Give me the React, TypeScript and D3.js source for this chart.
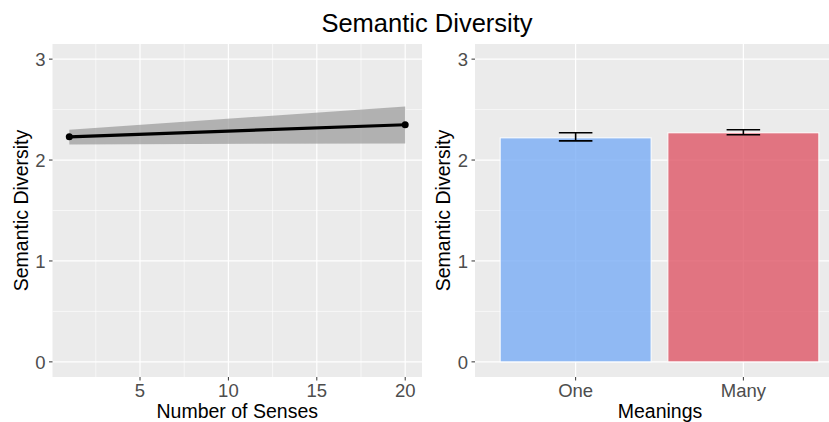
import React from "react";
import * as d3 from "d3";

const senses = [1, 20];
const fitValues = [2.23, 2.35];
const lowerValues = [2.155, 2.165];
const upperValues = [2.3, 2.53];

const meanings = ["One", "Many"];
const barValues = [2.22, 2.27];
const errLow = [2.19, 2.25];
const errHigh = [2.27, 2.3];
const barColors = ["#76AAF5", "#DE5263"];

const yTicks = [0, 1, 2, 3];
const yMinor = [0.5, 1.5, 2.5];
const xTicks = [5, 10, 15, 20];
const xMinor = [2.5, 7.5, 12.5, 17.5];

const W = 829;
const H = 422;
const FONT = "'Liberation Sans', Arial, Helvetica, sans-serif";

export default function App() {
  const top = 44;
  const bottom = 377;
  const y = d3.scaleLinear().domain([-0.15, 3.15]).range([bottom, top]);

  // Left panel
  const lx0 = 52.5;
  const lx1 = 422;
  const xL = d3.scaleLinear().domain([1 - 0.95, 20 + 0.95]).range([lx0, lx1]);

  // Right panel
  const rx0 = 475;
  const rx1 = 844;
  const xR = d3.scaleBand().domain(meanings).range([rx0, rx1]).paddingInner(0.1).paddingOuter(0.15);
  const bw = xR.bandwidth();
  const step = xR.step();

  const pts = senses.map((s, i) => ({ x: s, f: fitValues[i], lo: lowerValues[i], hi: upperValues[i] }));
  const area = d3
    .area<any>()
    .x((d) => xL(d.x))
    .y0((d) => y(d.lo))
    .y1((d) => y(d.hi));
  const line = d3
    .line<any>()
    .x((d) => xL(d.x))
    .y((d) => y(d.f));

  const bg = "#EBEBEB";
  const tickColor = "#333333";
  const labelColor = "#4D4D4D";
  const tickFs = 18.5;
  const titleFs = 19.5;

  return (
    <svg width={W} height={H} style={{ position: "absolute", left: 0, top: 0, background: "#fff" }} fontFamily={FONT}>
      <rect x={0} y={0} width={W} height={H} fill="#fff" />
      <text x={427} y={32} textAnchor="middle" fontSize={25.5} fill="#000">
        Semantic Diversity
      </text>

      {/* Left panel */}
      <rect x={lx0} y={top} width={lx1 - lx0} height={bottom - top} fill={bg} />
      {yMinor.map((v) => (
        <line key={"lym" + v} x1={lx0} x2={lx1} y1={y(v)} y2={y(v)} stroke="#fff" strokeWidth={0.6} />
      ))}
      {xMinor.map((v) => (
        <line key={"lxm" + v} x1={xL(v)} x2={xL(v)} y1={top} y2={bottom} stroke="#fff" strokeWidth={0.6} />
      ))}
      {yTicks.map((v) => (
        <line key={"ly" + v} x1={lx0} x2={lx1} y1={y(v)} y2={y(v)} stroke="#fff" strokeWidth={1.2} />
      ))}
      {xTicks.map((v) => (
        <line key={"lx" + v} x1={xL(v)} x2={xL(v)} y1={top} y2={bottom} stroke="#fff" strokeWidth={1.2} />
      ))}
      <path d={area(pts) || ""} fill="#999999" fillOpacity={0.7} />
      <path d={line(pts) || ""} fill="none" stroke="#000" strokeWidth={3.2} />
      {pts.map((p, i) => (
        <circle key={"pt" + i} cx={xL(p.x)} cy={y(p.f)} r={3.5} fill="#000" />
      ))}
      {yTicks.map((v) => (
        <g key={"lyt" + v}>
          <line x1={lx0 - 3.5} x2={lx0} y1={y(v)} y2={y(v)} stroke={tickColor} strokeWidth={1} />
          <text x={lx0 - 7} y={y(v)} dy="0.36em" textAnchor="end" fontSize={tickFs} fill={labelColor}>
            {v}
          </text>
        </g>
      ))}
      {xTicks.map((v) => (
        <g key={"lxt" + v}>
          <line x1={xL(v)} x2={xL(v)} y1={bottom} y2={bottom + 3.5} stroke={tickColor} strokeWidth={1} />
          <text x={xL(v)} y={397} textAnchor="middle" fontSize={tickFs} fill={labelColor}>
            {v}
          </text>
        </g>
      ))}
      <text x={(lx0 + lx1) / 2} y={418} textAnchor="middle" fontSize={titleFs} fill="#000">
        Number of Senses
      </text>
      <text
        transform={`translate(28, ${(top + bottom) / 2}) rotate(-90)`}
        textAnchor="middle"
        fontSize={titleFs}
        fill="#000"
      >
        Semantic Diversity
      </text>

      {/* Right panel */}
      <rect x={rx0} y={top} width={rx1 - rx0} height={bottom - top} fill={bg} />
      {yMinor.map((v) => (
        <line key={"rym" + v} x1={rx0} x2={rx1} y1={y(v)} y2={y(v)} stroke="#fff" strokeWidth={0.6} />
      ))}
      {yTicks.map((v) => (
        <line key={"ry" + v} x1={rx0} x2={rx1} y1={y(v)} y2={y(v)} stroke="#fff" strokeWidth={1.2} />
      ))}
      {meanings.map((m) => (
        <line
          key={"rx" + m}
          x1={(xR(m) || 0) + bw / 2}
          x2={(xR(m) || 0) + bw / 2}
          y1={top}
          y2={bottom}
          stroke="#fff"
          strokeWidth={1.2}
        />
      ))}
      {meanings.map((m, i) => (
        <rect
          key={"bar" + m}
          x={xR(m) || 0}
          y={y(barValues[i])}
          width={bw}
          height={y(0) - y(barValues[i])}
          fill={barColors[i]}
          fillOpacity={0.78}
          stroke="#fff"
          strokeWidth={1}
        />
      ))}
      {meanings.map((m, i) => {
        const cx = (xR(m) || 0) + bw / 2;
        const hw = step * 0.1;
        return (
          <g key={"err" + m} stroke="#000" strokeWidth={1.6}>
            <line x1={cx - hw} x2={cx + hw} y1={y(errHigh[i])} y2={y(errHigh[i])} />
            <line x1={cx - hw} x2={cx + hw} y1={y(errLow[i])} y2={y(errLow[i])} />
            <line x1={cx} x2={cx} y1={y(errHigh[i])} y2={y(errLow[i])} />
          </g>
        );
      })}
      {yTicks.map((v) => (
        <g key={"ryt" + v}>
          <line x1={rx0 - 3.5} x2={rx0} y1={y(v)} y2={y(v)} stroke={tickColor} strokeWidth={1} />
          <text x={rx0 - 7} y={y(v)} dy="0.36em" textAnchor="end" fontSize={tickFs} fill={labelColor}>
            {v}
          </text>
        </g>
      ))}
      {meanings.map((m) => (
        <g key={"rxt" + m}>
          <line
            x1={(xR(m) || 0) + bw / 2}
            x2={(xR(m) || 0) + bw / 2}
            y1={bottom}
            y2={bottom + 3.5}
            stroke={tickColor}
            strokeWidth={1}
          />
          <text x={(xR(m) || 0) + bw / 2} y={397} textAnchor="middle" fontSize={tickFs} fill={labelColor}>
            {m}
          </text>
        </g>
      ))}
      <text x={660} y={418} textAnchor="middle" fontSize={titleFs} fill="#000">
        Meanings
      </text>
      <text
        transform={`translate(450, ${(top + bottom) / 2}) rotate(-90)`}
        textAnchor="middle"
        fontSize={titleFs}
        fill="#000"
      >
        Semantic Diversity
      </text>
    </svg>
  );
}
